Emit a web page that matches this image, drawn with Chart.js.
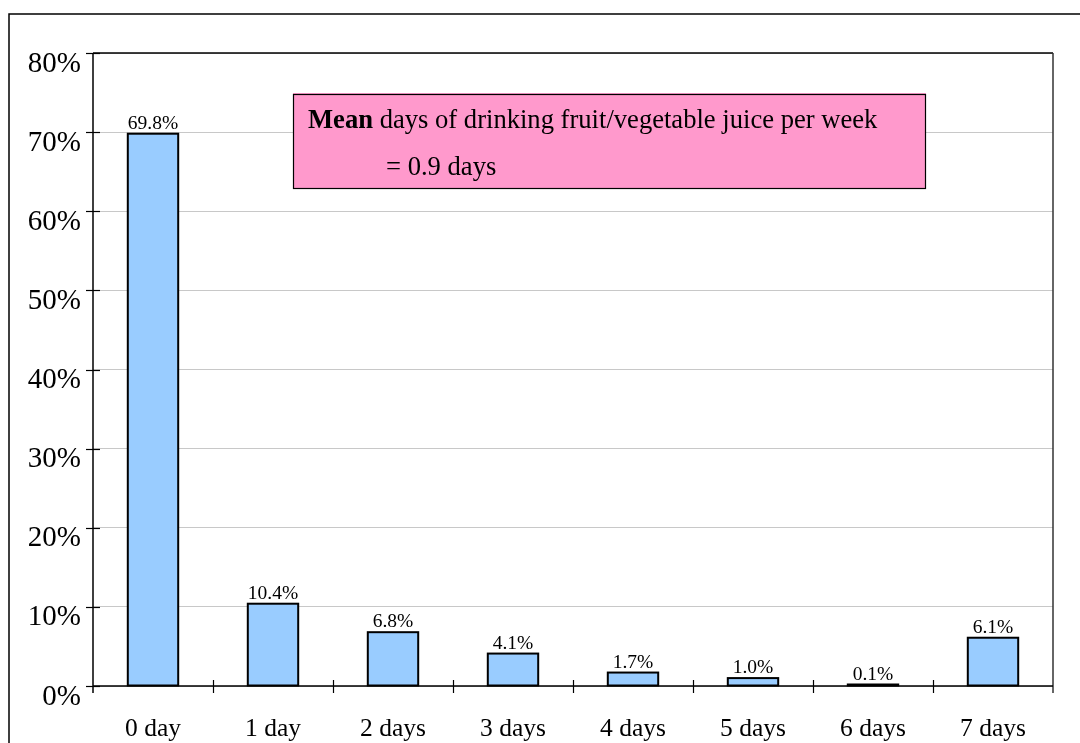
<!DOCTYPE html>
<html>
<head>
<meta charset="utf-8">
<script src="https://cdn.jsdelivr.net/npm/chart.js@4"></script>
<style>
  html, body { margin: 0; padding: 0; background: #fff; }
  #wrap { width: 1080px; height: 743px; position: relative; }
</style>
</head>
<body>
<div id="wrap"><canvas id="myChart" width="1080" height="743"></canvas></div>
<script>
const categories = ['0 day', '1 day', '2 days', '3 days', '4 days', '5 days', '6 days', '7 days'];
const percents = [69.8, 10.4, 6.8, 4.1, 1.7, 1.0, 0.1, 6.1];
const yTicks = [0, 10, 20, 30, 40, 50, 60, 70, 80];
const noteTitle = 'Mean';
const noteRest = ' days of drinking fruit/vegetable juice per week';
const noteLine2 = '= 0.9 days';

const serif = '"Liberation Serif", "Times New Roman", serif';

// frame, crossing ticks, bar outlines, value labels and the pink note box
const extras = {
    id: 'extras',
    afterDraw(chart) {
        const c = chart.ctx;
        const a = chart.chartArea;
        const x = chart.scales.x;
        const y = chart.scales.y;
        c.save();

        // outer border (runs off the right and bottom edges)
        c.strokeStyle = '#000';
        c.lineWidth = 1.5;
        c.beginPath();
        c.moveTo(1080, 14);
        c.lineTo(9, 14);
        c.lineTo(9, 743);
        c.stroke();

        // plot frame
        c.beginPath();
        c.moveTo(a.left, a.top);
        c.lineTo(a.right, a.top);
        c.stroke();
        c.strokeStyle = '#333';
        c.beginPath();
        c.moveTo(a.right, a.top);
        c.lineTo(a.right, a.bottom + 7);
        c.stroke();

        // axes
        c.strokeStyle = '#000';
        c.beginPath();
        c.moveTo(a.left, a.top);
        c.lineTo(a.left, a.bottom + 7);
        c.moveTo(a.left, a.bottom);
        c.lineTo(a.right, a.bottom);
        c.stroke();

        // y ticks
        c.lineWidth = 1.2;
        yTicks.forEach(v => {
            const py = Math.round(y.getPixelForValue(v)) + 0.5;
            c.beginPath();
            c.moveTo(a.left - 7, py);
            c.lineTo(a.left + 7, py);
            c.stroke();
        });
        // x ticks between categories
        const step = x.width / categories.length;
        for (let i = 1; i < categories.length; i++) {
            const px = Math.round(x.left + i * step) + 0.5;
            c.beginPath();
            c.moveTo(px, a.bottom - 6);
            c.lineTo(px, a.bottom + 7);
            c.stroke();
        }

        // bar outlines, taken from the bar elements
        const meta = chart.getDatasetMeta(0);
        c.strokeStyle = '#000';
        c.lineWidth = 2;
        meta.data.forEach(bar => {
            const p = bar.getProps(['x', 'y', 'base', 'width'], true);
            const h = Math.max(p.base - p.y, 1);
            c.strokeRect(p.x - p.width / 2, p.base - h, p.width, h);
        });

        // value labels
        c.fillStyle = '#000';
        c.font = '19.5px ' + serif;
        c.textAlign = 'center';
        c.textBaseline = 'alphabetic';
        meta.data.forEach((bar, i) => {
            c.fillText(percents[i].toFixed(1) + '%', bar.x, Math.min(bar.y, bar.base - 1) - 5);
        });

        // note box
        c.fillStyle = '#FF99CC';
        c.fillRect(293, 93, 633, 96);
        c.strokeStyle = '#000';
        c.lineWidth = 1.2;
        c.strokeRect(293.5, 94.5, 632, 94);
        c.fillStyle = '#000';
        c.textAlign = 'left';
        c.font = 'bold 26.6px ' + serif;
        c.fillText(noteTitle, 308, 128);
        const w = c.measureText(noteTitle).width;
        c.font = '26.6px ' + serif;
        c.fillText(noteRest, 308 + w, 128);
        c.fillText(noteLine2, 386, 175);

        c.restore();
    }
};

const data = {
    labels: categories,
    datasets: [{
        data: percents,
        backgroundColor: '#99CCFF',
        borderWidth: 0,
        barPercentage: 0.42,
        categoryPercentage: 1
    }]
};

const config = {
    type: 'bar',
    data: data,
    options: {
        responsive: false,
        animation: false,
        layout: { padding: { left: 0, top: 53, right: 27, bottom: 0 } },
        plugins: {
            legend: { display: false },
            tooltip: { enabled: false }
        },
        scales: {
            x: {
                afterFit: s => { s.height = 57; },
                grid: { display: false },
                border: { display: false },
                ticks: {
                    color: '#000',
                    font: { family: serif, size: 25.5 },
                    padding: 20
                }
            },
            y: {
                min: 0,
                max: 80,
                afterFit: s => { s.width = 93; },
                afterBuildTicks: s => { s.ticks = yTicks.map(v => ({ value: v })); },
                grid: { color: '#c8c8c8', lineWidth: 1, drawTicks: false },
                border: { display: false },
                ticks: {
                    color: '#000',
                    font: { family: serif, size: 29 },
                    padding: 12,
                    labelOffset: 11,
                    callback: v => v + '%'
                }
            }
        }
    },
    plugins: [extras]
};

const ctx = document.getElementById('myChart').getContext('2d');
const myChart = new Chart(ctx, config);
</script>
</body>
</html>
